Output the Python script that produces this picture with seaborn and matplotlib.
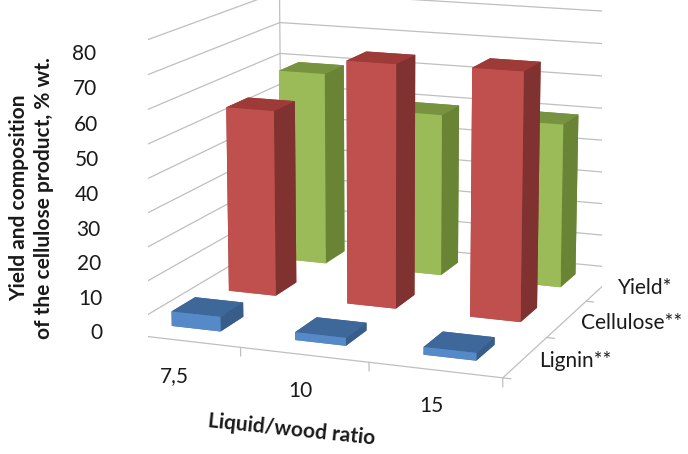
import matplotlib
matplotlib.use("Agg")
import matplotlib.pyplot as plt
import numpy as np
import seaborn as sns
from mpl_toolkits.mplot3d import proj3d

# ---- data -------------------------------------------------------------
ratios = ["7,5", "10", "15"]
series = ["Lignin**", "Cellulose**", "Yield*"]          # front -> back
lignin = [4.3, 2.3, 2.2]
cellulose = [56, 72.5, 73]
yield_ = [60, 50, 50]
z_ticks = [0, 10, 20, 30, 40, 50, 60, 70, 80]

values = [lignin, cellulose, yield_]

sns.set_theme(style="white")
plt.rcParams["font.family"] = ["Lato", "DejaVu Sans"]

# face colours: (bottom, top, front, back, left, right)
face_cols = {
    "Lignin**": ["#4F81BD", "#3E679A", "#5589C7", "#3E679A", "#3E679A", "#385D8A"],
    "Cellulose**": ["#C0504D", "#9E3B38", "#C0504D", "#9E3B38", "#9E3B38", "#7F3230"],
    "Yield*": ["#9BBB59", "#78933F", "#9BBB59", "#78933F", "#78933F", "#6A8436"],
}

fig = plt.figure(figsize=(6.88, 4.54), dpi=100)
ax = fig.add_axes([0.065, 0.118, 0.96, 1.0], projection="3d", computed_zorder=False)
ax.set_proj_type("persp", focal_length=1.0)
ax.view_init(elev=13, azim=-69)
ax.set_box_aspect((1.43, 1.47, 1.0), zoom=1.337)
ax.set_axis_off()

x0, x1 = -0.5, len(ratios) - 0.5
y0, y1 = -0.5, len(series) - 0.5
zmax = z_ticks[-1]
ax.set_xlim(x0, x1)
ax.set_ylim(y0, y1)
ax.set_zlim(0, zmax)

gcol = "#BFBFBF"
lw = 0.9
# horizontal gridlines on left and back walls
for z in z_ticks:
    ax.plot([x0, x0, x1], [y0, y1, y1], [z, z, z], color=gcol, lw=lw, zorder=1)
# wall edges
ax.plot([x0, x0], [y1, y1], [0, zmax], color=gcol, lw=lw, zorder=1)
ax.plot([x1, x1], [y1, y1], [0, zmax], color=gcol, lw=lw, zorder=1)
ax.plot([x0, x0], [y0, y0], [0, zmax], color=gcol, lw=lw, zorder=1)
# floor edges
ax.plot([x0, x1, x1], [y0, y0, y1], [0, 0, 0], color=gcol, lw=lw, zorder=1)

# tick marks
for z in z_ticks:
    ax.plot([x0, x0 - 0.05], [y0, y0], [z, z], color=gcol, lw=lw, zorder=1)
for xb in np.arange(x0, x1 + 0.01, 1.0):
    ax.plot([xb, xb], [y0, y0], [0, -2.5], color=gcol, lw=lw, zorder=1)
for yb in np.arange(y0, y1 + 0.01, 1.0):
    ax.plot([x1, x1 + 0.06], [yb, yb], [0, 0], color=gcol, lw=lw, zorder=1)

# bars, drawn in one collection so faces are depth-sorted together
w, d = 0.4, 0.4
xs, ys, hs, cols = [], [], [], []
for j, name in enumerate(series):
    for i in range(len(ratios)):
        xs.append(i - w / 2)
        ys.append(j - d / 2)
        hs.append(values[j][i])
        cols.extend(face_cols[name])
ax.bar3d(xs, ys, np.zeros(len(xs)), w, d, hs, color=cols, shade=False,
         edgecolor="none", zorder=5)

# ---- labels placed at projected positions -----------------------------
fig.canvas.draw()
M = ax.get_proj()
to_fig = fig.transFigure.inverted()


def place(x, y, z, dx_px, dy_px, s, **kw):
    px, py, _ = proj3d.proj_transform(x, y, z, M)
    X, Y = ax.transData.transform((px, py))
    fx, fy = to_fig.transform((X + dx_px, Y + dy_px))
    fig.text(fx, fy, s, **kw)


fs = 15
tcol = "#1a1a1a"
for z in z_ticks:
    place(x0, y0, z, -14, 0, str(z), ha="right", va="center", fontsize=fs, color=tcol)
for i, lab in enumerate(ratios):
    place(i, y0, 0, -4, -36, lab, ha="center", va="center", fontsize=fs, color=tcol)
for j, lab in enumerate(series):
    place(x1, j, 0, 14, -4, lab, ha="left", va="center", fontsize=fs, color=tcol)

fig.text(292 / 688, 1 - 430 / 454, "Liquid/wood ratio", ha="center", va="center",
         fontsize=15, fontweight="bold", rotation=-6, color=tcol)
fig.text(32 / 688, 1 - 198 / 454, "Yield and composition\nof the cellulose product, % wt.",
         ha="center", va="center", fontsize=15, fontweight="bold",
         rotation=90, color=tcol, linespacing=1.3)

fig.savefig("out.png", dpi=100, facecolor="white")
